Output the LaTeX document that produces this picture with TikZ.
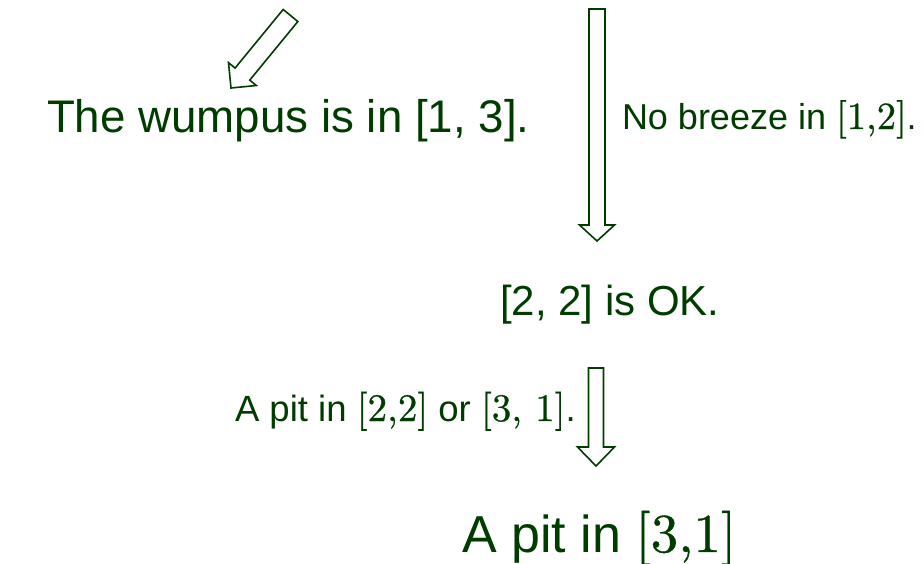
\documentclass[tikz,border=0pt]{standalone}
\usepackage{fontspec}
\usetikzlibrary{calc}
\newfontfamily\arialf{Liberation Sans}
\newfontfamily\serifm[FakeBold=0.6]{lmroman10-regular.otf}
\definecolor{dgreen}{RGB}{0,60,0}
\newcommand{\rmb}[2]{{\serifm\fontsize{#1}{#1}\selectfont #2}}
\newcommand{\blockarrow}[5]{%
  \coordinate (bah) at ($(#2)!#5!(#1)$);
  \draw[arrowline] ($(#1)!#3!90:(#2)$) -- ($(bah)!#3!90:(#2)$) -- ($(bah)!#4!90:(#2)$) -- (#2)
    -- ($(bah)!#4!-90:(#2)$) -- ($(bah)!#3!-90:(#2)$) -- ($(#1)!#3!-90:(#2)$) -- cycle;}
\begin{document}
\begin{tikzpicture}[x=1pt,y=-1pt,
  arrowline/.style={draw=dgreen,fill=white,line width=1.6pt,line join=miter},
  txt/.style={anchor=base west,inner sep=0pt,outer sep=0pt,text=dgreen,font=\arialf}]
\useasboundingbox (0,0) rectangle (924,563);
% texts
\node[txt,font=\arialf\fontsize{45.7}{50}\selectfont] (wumpus) at (47,132) {The wumpus is in [1, 3].};
\node[txt,font=\arialf\fontsize{36}{40}\selectfont] (breeze) at (622,129) {No breeze in \rmb{38.5}{[1,2]}.};
\node[txt,font=\arialf\fontsize{42}{48}\selectfont] (ok) at (500,315) {[2, 2] is OK.};
\node[txt,font=\arialf\fontsize{36.5}{42}\selectfont] (pit) at (235,421) {A pit in \rmb{39}{[2,2]} or \rmb{39}{[3, 1]}.};
\node[txt,font=\arialf\fontsize{52}{58}\selectfont] (pit31) at (462,552) {A pit in \rmb{55}{[3,1]}};
% arrows
\coordinate (d1) at (290.5,15.5);
\coordinate (d2) at (231,88);
\coordinate (v1a) at (597,9);
\coordinate (v1b) at (597,241);
\coordinate (v2a) at (596,368);
\coordinate (v2b) at (596,466);
\blockarrow{d1}{d2}{9.5pt}{18pt}{18pt}
\blockarrow{v1a}{v1b}{8pt}{17.5pt}{16pt}
\blockarrow{v2a}{v2b}{7.5pt}{18.5pt}{19pt}
\end{tikzpicture}
\end{document}
